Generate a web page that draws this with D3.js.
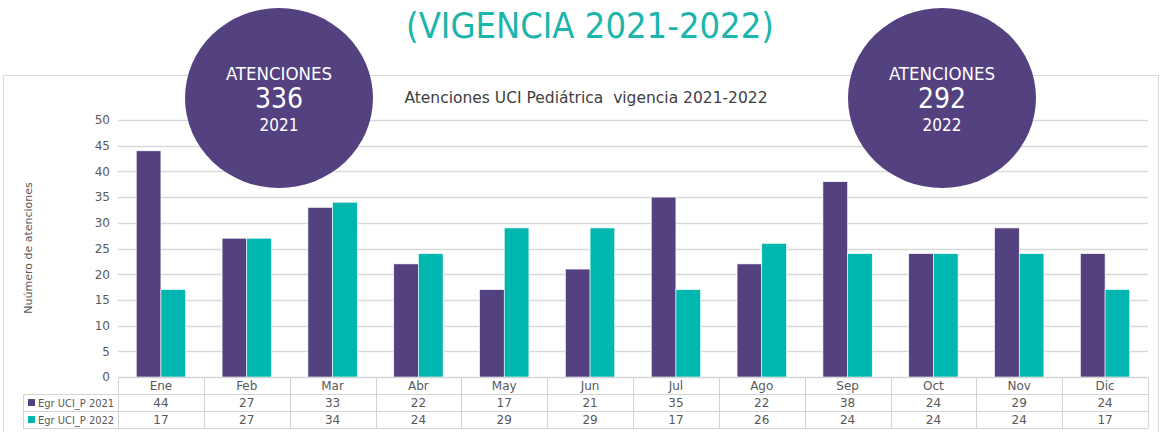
<!DOCTYPE html>
<html>
<head>
<meta charset="utf-8">
<script src="https://cdn.jsdelivr.net/npm/d3@7"></script>
<style>
  body { margin: 0; background: #fff; }
  svg { display: block; font-family: "DejaVu Sans", Verdana, sans-serif; }
</style>
</head>
<body>
<div id="chart"></div>
<script>
'use strict';

var months = ['Ene', 'Feb', 'Mar', 'Abr', 'May', 'Jun', 'Jul', 'Ago', 'Sep', 'Oct', 'Nov', 'Dic'];
var values2021 = [44, 27, 33, 22, 17, 21, 35, 22, 38, 24, 29, 24];
var values2022 = [17, 27, 34, 24, 29, 29, 17, 26, 24, 24, 24, 17];
var seriesNames = ['Egr UCI_P 2021', 'Egr UCI_P 2022'];
var yTicks = [0, 5, 10, 15, 20, 25, 30, 35, 40, 45, 50];

var width = 1162;
var height = 432;
var purple = '#534180';
var teal = '#00b7af';
var gridColor = '#d9d9d9';
var textColor = '#595959';
var condensed = '"DejaVu Sans Condensed", "DejaVu Sans", sans-serif';

var svg = d3.select('#chart')
    .append('svg')
    .attr('width', width)
    .attr('height', height);

// chart frame
svg.append('rect')
    .attr('x', 3.5).attr('y', 75.5)
    .attr('width', 1155).attr('height', 370)
    .attr('fill', 'none')
    .attr('stroke', '#d9d9d9');

var plotLeft = 118, plotRight = 1148, plotTop = 120, plotBottom = 377;

var x = d3.scaleBand()
    .domain(months)
    .range([plotLeft, plotRight]);

var xInner = d3.scaleBand()
    .domain([0, 1])
    .range([0, x.bandwidth()])
    .paddingOuter(0.74);

var y = d3.scaleLinear()
    .domain([0, 50])
    .range([plotBottom, plotTop]);

// gridlines
svg.append('g')
    .selectAll('line')
    .data(yTicks)
    .enter()
    .append('line')
    .attr('x1', plotLeft)
    .attr('x2', plotRight)
    .attr('y1', function(d){ return Math.round(y(d)) + 0.5; })
    .attr('y2', function(d){ return Math.round(y(d)) + 0.5; })
    .attr('stroke', gridColor)
    .attr('stroke-width', 1.5);

// y axis labels
var yAxis = svg.append('g')
    .attr('transform', 'translate(' + 110 + ',0)')
    .call(d3.axisLeft(y).tickValues(yTicks).tickSize(0).tickPadding(0));
yAxis.select('.domain').remove();
yAxis.selectAll('text')
    .attr('fill', textColor)
    .style('font-size', '12px')
    .style('font-family', '"DejaVu Sans", Verdana, sans-serif');

svg.append('text')
    .attr('transform', 'translate(32,' + 248 + ') rotate(-90)')
    .attr('text-anchor', 'middle')
    .attr('fill', textColor)
    .style('font-size', '11px')
    .text('Nuúmero de atenciones');

// bars
var series = [values2021, values2022];
var colors = [purple, teal];

series.forEach(function(vals, si){
    svg.append('g')
        .selectAll('rect')
        .data(vals)
        .enter()
        .append('rect')
        .attr('x', function(d, i){ return x(months[i]) + xInner(si); })
        .attr('y', function(d){ return y(d); })
        .attr('width', xInner.bandwidth())
        .attr('height', function(d){ return y(0) - y(d); })
        .attr('fill', colors[si])
        .attr('stroke', '#fff')
        .attr('stroke-width', 0.6);
});

// data table
var tableTop = 377;
var rowY = [tableTop, tableTop + 17, tableTop + 34, tableTop + 51];
var legendLeft = 23;
var tbl = svg.append('g').attr('stroke', '#d4d4d4').attr('stroke-width', 1);

// horizontal lines
tbl.append('line').attr('x1', plotLeft).attr('x2', plotRight)
    .attr('y1', rowY[0] + 0.5).attr('y2', rowY[0] + 0.5);
[1, 2, 3].forEach(function(r){
    tbl.append('line').attr('x1', legendLeft).attr('x2', plotRight)
        .attr('y1', rowY[r] + 0.5).attr('y2', rowY[r] + 0.5);
});
// vertical lines
tbl.append('line').attr('x1', legendLeft + 0.5).attr('x2', legendLeft + 0.5)
    .attr('y1', rowY[1]).attr('y2', rowY[3]);
months.concat(['end']).forEach(function(m, i){
    var xx = (i < months.length ? x(m) : plotRight);
    tbl.append('line').attr('x1', Math.round(xx) + 0.5).attr('x2', Math.round(xx) + 0.5)
        .attr('y1', rowY[0]).attr('y2', rowY[3]);
});

svg.append('g')
    .selectAll('text')
    .data(months)
    .enter()
    .append('text')
    .attr('x', function(d){ return x(d) + x.bandwidth() / 2; })
    .attr('y', rowY[0] + 13)
    .attr('text-anchor', 'middle')
    .attr('fill', textColor)
    .style('font-size', '12px')
    .text(function(d){ return d; });

series.forEach(function(vals, si){
    var ry = rowY[si + 1];
    svg.append('rect')
        .attr('x', 28).attr('y', ry + 5)
        .attr('width', 7).attr('height', 7)
        .attr('fill', colors[si]);
    svg.append('text')
        .attr('x', 38).attr('y', ry + 13)
        .attr('fill', textColor)
        .style('font-size', '11px')
        .style('font-family', condensed)
        .text(seriesNames[si]);
    svg.append('g')
        .selectAll('text')
        .data(vals)
        .enter()
        .append('text')
        .attr('x', function(d, i){ return x(months[i]) + x.bandwidth() / 2; })
        .attr('y', ry + 13)
        .attr('text-anchor', 'middle')
        .attr('fill', textColor)
        .style('font-size', '12px')
        .text(function(d){ return d; });
});

// chart title
svg.append('text')
    .attr('x', 586).attr('y', 103)
    .attr('text-anchor', 'middle')
    .attr('fill', '#404040')
    .style('font-size', '15.5px')
    .style('font-family', '"DejaVu Sans", sans-serif')
    .attr('xml:space', 'preserve')
    .text('Atenciones UCI Pediátrica  vigencia 2021-2022');

// page heading
svg.append('text')
    .attr('x', 590).attr('y', 38)
    .attr('text-anchor', 'middle')
    .attr('fill', '#1cb5ac')
    .style('font-size', '36px')
    .style('font-family', condensed)
    .text('(VIGENCIA 2021-2022)');

// totals bubbles
var bubbles = [
    { cx: 279, year: '2021', total: d3.sum(values2021) },
    { cx: 942, year: '2022', total: d3.sum(values2022) }
];
var bub = svg.selectAll('g.bubble')
    .data(bubbles)
    .enter()
    .append('g')
    .attr('class', 'bubble')
    .attr('transform', function(d){ return 'translate(' + d.cx + ',98)'; });
bub.append('ellipse')
    .attr('rx', 94).attr('ry', 90)
    .attr('fill', purple);
bub.append('text')
    .attr('y', -18)
    .attr('text-anchor', 'middle')
    .attr('fill', '#fff')
    .style('font-size', '18.5px')
    .style('font-family', condensed)
    .text('ATENCIONES');
bub.append('text')
    .attr('y', 10)
    .attr('text-anchor', 'middle')
    .attr('fill', '#fff')
    .style('font-size', '28px')
    .style('font-family', condensed)
    .text(function(d){ return d.total; });
bub.append('text')
    .attr('y', 33)
    .attr('text-anchor', 'middle')
    .attr('fill', '#fff')
    .style('font-size', '17px')
    .style('font-family', condensed)
    .text(function(d){ return d.year; });
</script>
</body>
</html>
